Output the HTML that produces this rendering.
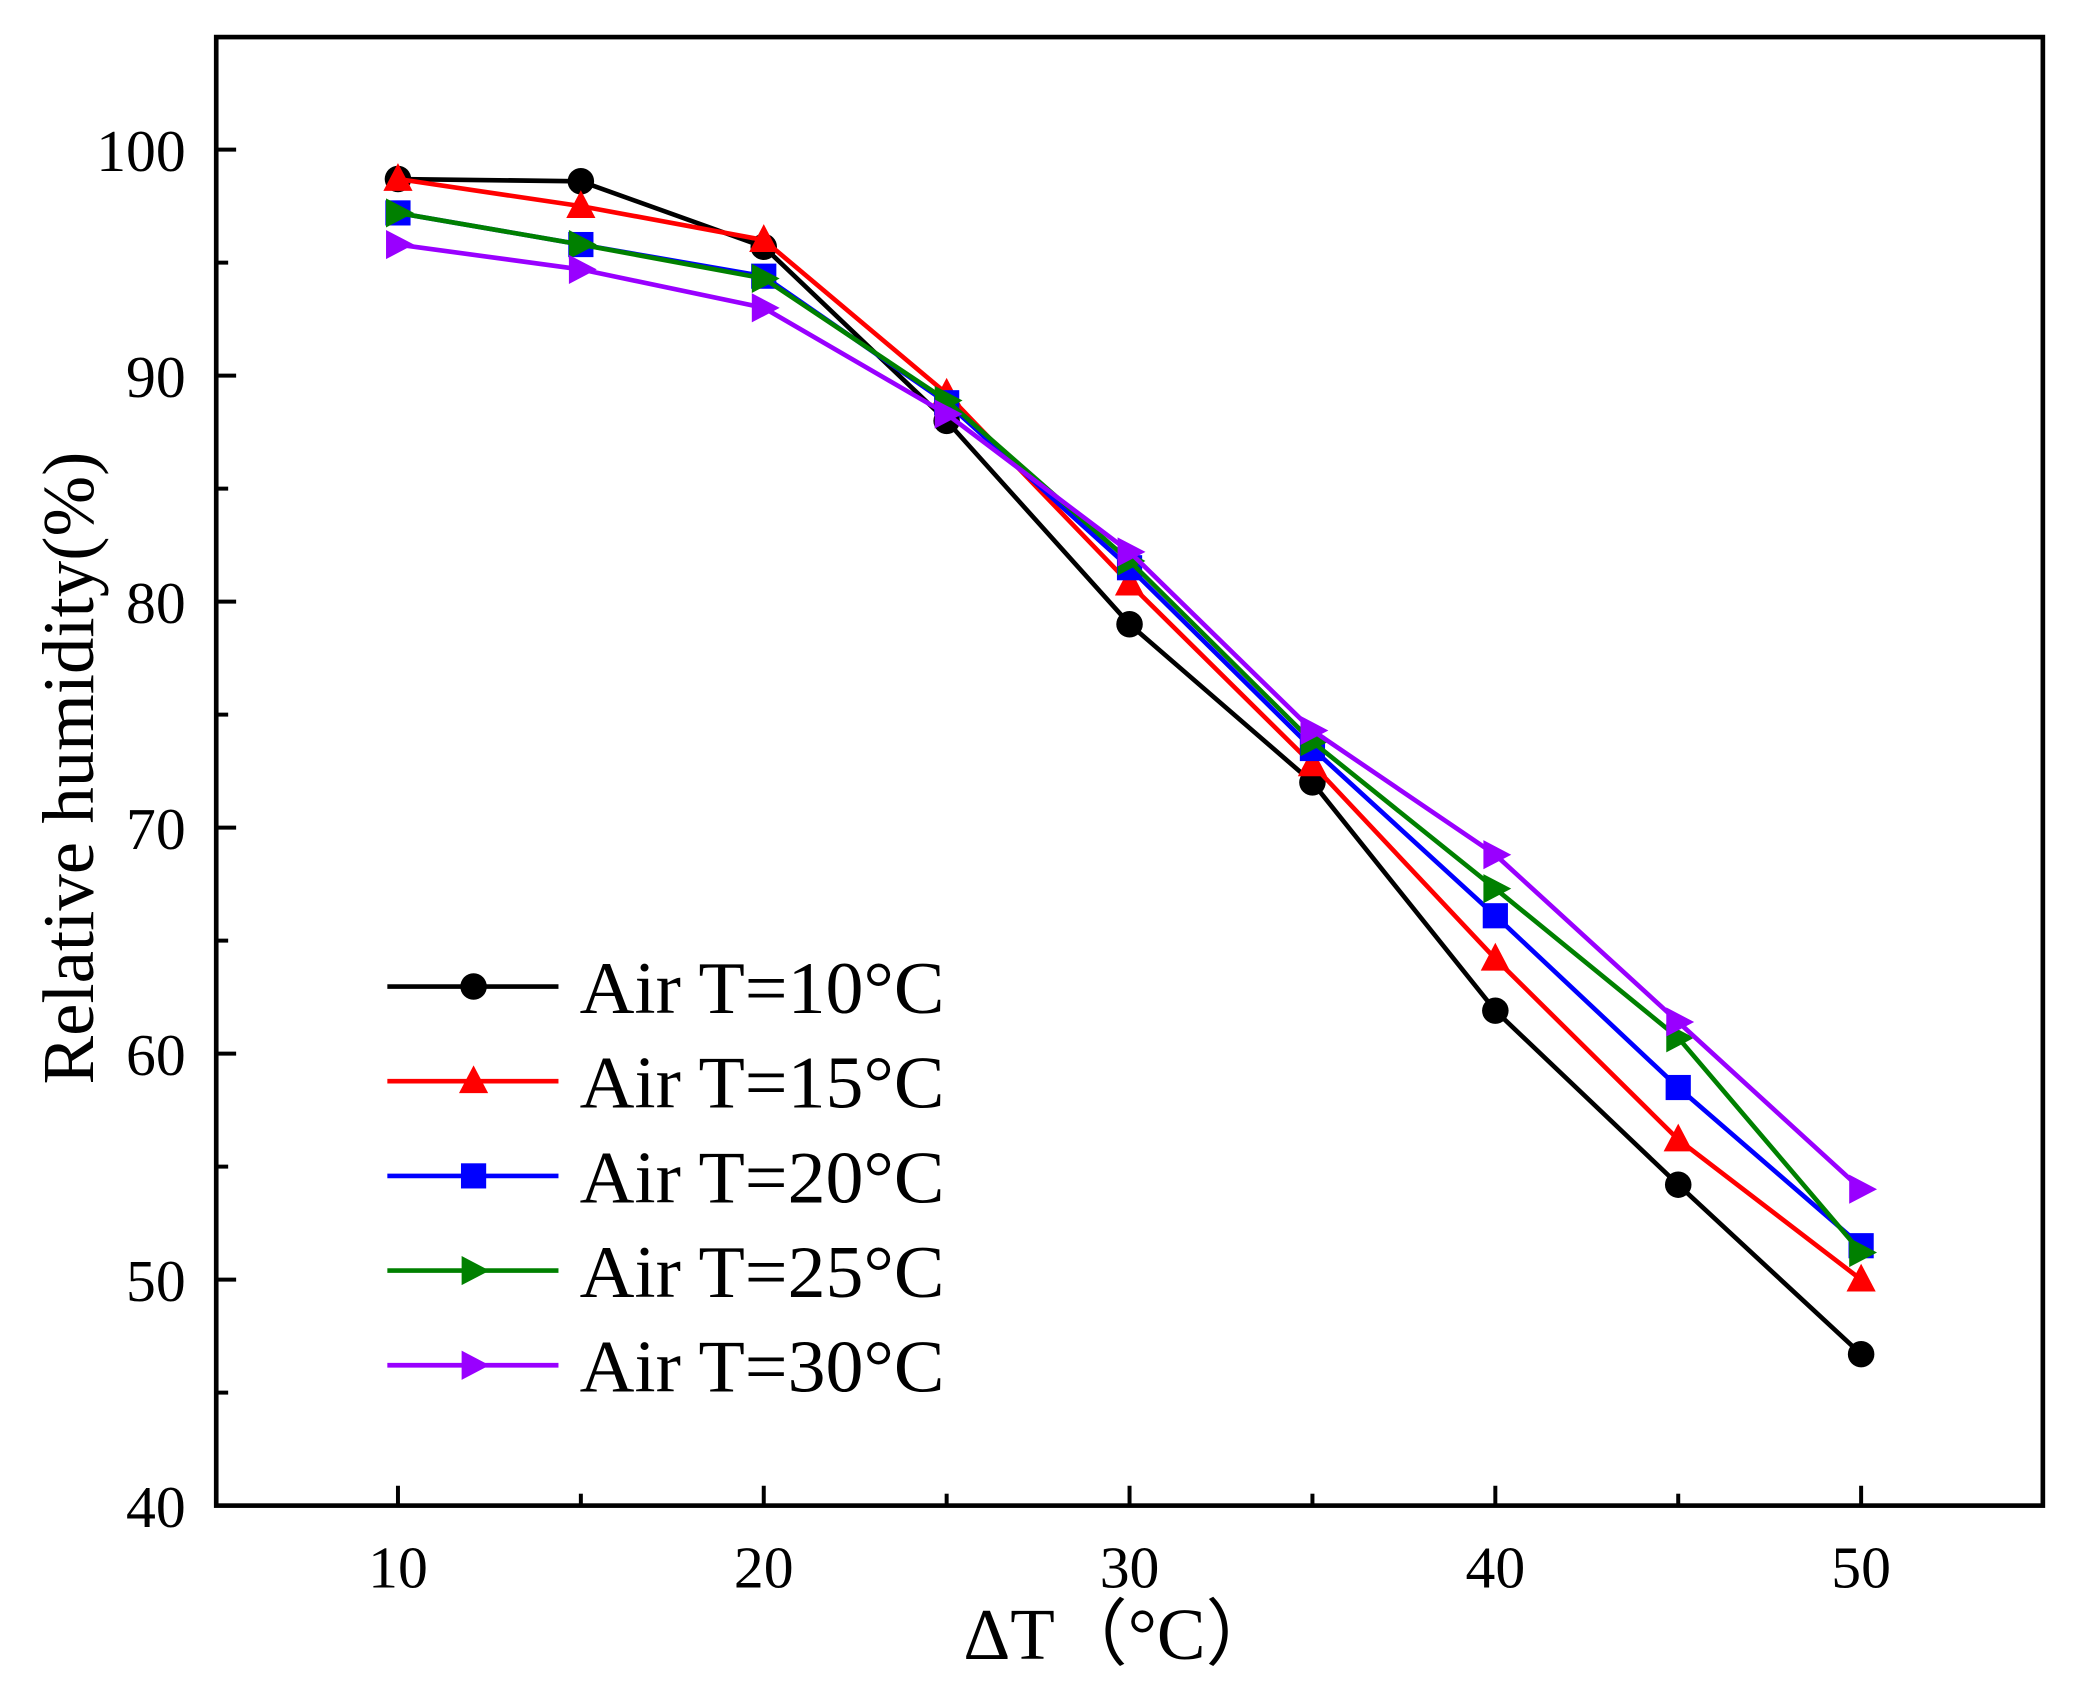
<!DOCTYPE html>
<html><head><meta charset="utf-8"><style>
html,body{margin:0;padding:0;background:#fff;}
svg{display:block;font-family:"Liberation Serif","Times New Roman",serif;}
</style></head><body>
<svg id="chart" width="2080" height="1691" viewBox="0 0 1568 1277" preserveAspectRatio="none" xmlns="http://www.w3.org/2000/svg">
<g id="plot"></g>
</svg>
<script>
const xValues = [10, 15, 20, 25, 30, 35, 40, 45, 50];
const seriesNames = ["Air T=10°C", "Air T=15°C", "Air T=20°C", "Air T=25°C", "Air T=30°C"];
const s10 = [98.7, 98.6, 95.7, 88.0, 79.0, 72.0, 61.9, 54.2, 46.7];
const s15 = [98.7, 97.5, 96.0, 89.2, 80.8, 72.8, 64.2, 56.2, 50.0];
const s20 = [97.2, 95.8, 94.4, 88.8, 81.5, 73.5, 66.1, 58.5, 51.5];
const s25 = [97.2, 95.8, 94.3, 88.9, 81.8, 73.8, 67.3, 60.7, 51.2];
const s30 = [95.8, 94.7, 93.0, 88.3, 82.2, 74.3, 68.8, 61.4, 54.0];
const xTicks = [10, 20, 30, 40, 50];
const yTicks = [40, 50, 60, 70, 80, 90, 100];

const NS = "http://www.w3.org/2000/svg";
const g = document.getElementById("plot");
const L = 163, R = 1540, T = 28, B = 1137;
const sx = v => 300 + (v - 10) * (1403 - 300) / 40;
const sy = v => 1137 - (v - 40) * (1137 - 113) / 60;
function el(tag, attrs, parent) {
  const e = document.createElementNS(NS, tag);
  for (const k in attrs) e.setAttribute(k, attrs[k]);
  (parent || g).appendChild(e);
  return e;
}
const frame = el("rect", {x: L, y: T, width: R - L, height: B - T, fill: "none", stroke: "#000", "stroke-width": 3.5});



for (let v = 45; v <= 100; v += 5) {
  const major = v % 10 === 0;
  const t = el("line", {x1: L, x2: L + (major ? 15 : 9), y1: sy(v), y2: sy(v), stroke: "#000", "stroke-width": 3});
  
  
}
yTicks.forEach(v => {
  const t = el("text", {x: 140, y: sy(v) + 16, "font-size": 45, "text-anchor": "end"});
  t.textContent = v;
  
  
});
for (let v = 10; v <= 50; v += 5) {
  const major = v % 10 === 0;
  const t = el("line", {x1: sx(v), x2: sx(v), y1: B, y2: B - (major ? 15 : 9), stroke: "#000", "stroke-width": 3});
  
  
}
xTicks.forEach(v => {
  const t = el("text", {x: sx(v), y: 1199, "font-size": 45, "text-anchor": "middle"});
  t.textContent = v;
  
  
});
const yl = el("text", {x: 0, y: 0, "font-size": 55, "text-anchor": "middle", transform: "translate(70,580) rotate(-90)"});
yl.textContent = "Relative humidity(%)";


const xl = el("text", {x: 845, y: 1253, "font-size": 55, "text-anchor": "middle"});
xl.textContent = "ΔT（°C）";



const colors = ["#000000", "#ff0000", "#0000ff", "#008000", "#9900ff"];
const markers = ["circle", "up", "square", "right", "right"];
const allSeries = [s10, s15, s20, s25, s30];
function marker(type, x, y, c, parent) {
  let m;
  if (type === "circle") m = el("circle", {cx: x, cy: y, r: 10, fill: c}, parent);
  else if (type === "square") m = el("rect", {x: x - 9.5, y: y - 9.5, width: 19, height: 19, fill: c}, parent);
  else if (type === "up") m = el("polygon", {points: `${x},${y-12} ${x+11},${y+9} ${x-11},${y+9}`, fill: c}, parent);
  else m = el("polygon", {points: `${x+12},${y} ${x-9},${y-11} ${x-9},${y+11}`, fill: c}, parent);
  return m;
}
allSeries.forEach((s, i) => {
  const sg = el("g", {});
  
  
  const line = el("polyline", {points: s.map((v, j) => sx(xValues[j]) + "," + sy(v)).join(" "), fill: "none", stroke: colors[i], "stroke-width": 3.5}, sg);
  
  
  s.forEach((v, j) => {
    const m = marker(markers[i], sx(xValues[j]), sy(v), colors[i], sg);
    
    
  });
});
seriesNames.forEach((n, i) => {
  const y = 745 + i * 71.5;
  const lg = el("g", {});
  
  
  el("line", {x1: 292, x2: 421, y1: y, y2: y, stroke: colors[i], "stroke-width": 3.5}, lg);
  marker(markers[i], 357, y, colors[i], lg);
  const t = el("text", {x: 437, y: y + 20, "font-size": 56, textLength: 275, lengthAdjust: "spacingAndGlyphs"}, lg);
  t.textContent = n;
});
</script>
</body></html>
